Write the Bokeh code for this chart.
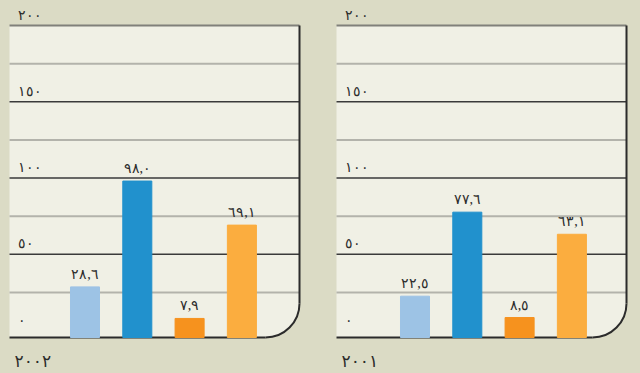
import math
from bokeh.plotting import figure
from bokeh.models import ColumnDataSource, LabelSet, Label, BoxAnnotation, Range1d
from bokeh.layouts import row
from bokeh.embed import file_html
from bokeh.resources import INLINE

# ---- data ----
years = ["2002", "2001"]
categories = [1, 2, 3, 4]
values_2002 = [28.6, 98.0, 7.9, 69.1]
values_2001 = [22.5, 77.6, 8.5, 63.1]
bar_colors = ["#9dc3e5", "#2191cd", "#f6921e", "#fbad3f"]
major_ticks = [0, 50, 100, 150, 200]
dark_grid = [50, 100, 150]
light_grid = [25, 75, 125, 175]
top_grid = [200]

AR = str.maketrans("0123456789.", "٠١٢٣٤٥٦٧٨٩,")


def ar(s):
    return str(s).translate(AR)


BG = "#dbdbc5"
PANEL = "#f0f0e5"
DARK = "#2b2b2b"
FONT = "DejaVu Sans"

W, H = 320, 373
PX_X = 52.3          # pixels per category step
PX_Y = 1.525         # pixels per value unit
ZERO_PX = 330        # pixel row of value 0 (from top)
Y1 = ZERO_PX / PX_Y
Y0 = -(H - ZERO_PX) / PX_Y
Y_BASE = -7 / PX_Y   # bottom edge of plotting area (slightly below zero)
RADIUS = 34          # rounded corner, px


def panel(values, year, first_px, box_left_px, box_right_px):
    X0 = 1 - first_px / PX_X
    X1 = X0 + W / PX_X
    BX0 = X0 + box_left_px / PX_X
    BX1 = X0 + box_right_px / PX_X
    TOP = max(major_ticks)

    p = figure(width=W, height=H, output_backend="svg", toolbar_location=None,
               x_range=Range1d(X0, X1), y_range=Range1d(Y0, Y1),
               x_axis_location=None, y_axis_location=None,
               min_border_left=0, min_border_right=0,
               min_border_top=0, min_border_bottom=0)
    p.center = []
    p.background_fill_color = BG
    p.border_fill_color = BG
    p.outline_line_color = None

    box = BoxAnnotation(left=BX0, right=BX1, bottom=Y_BASE, top=TOP,
                        fill_color=PANEL, fill_alpha=1, line_color=None,
                        border_radius=dict(top_left=0, top_right=0,
                                           bottom_right=RADIUS, bottom_left=0),
                        level="image")
    p.add_layout(box)

    n = len(light_grid)
    p.segment(x0=[BX0] * n, x1=[BX1] * n, y0=light_grid, y1=light_grid,
              line_color="#b3b3ab", line_width=2)
    n = len(dark_grid)
    p.segment(x0=[BX0] * n, x1=[BX1] * n, y0=dark_grid, y1=dark_grid,
              line_color="#3a3a3a", line_width=1.5)
    p.segment(x0=[BX0], x1=[BX1], y0=top_grid, y1=top_grid,
              line_color="#80807a", line_width=2)

    # outline: right edge, bottom edge, rounded corner
    rx = RADIUS / PX_X
    ry = RADIUS / PX_Y
    p.segment(x0=[BX1, BX0], x1=[BX1, BX1 - rx], y0=[TOP, Y_BASE],
              y1=[Y_BASE + ry, Y_BASE], line_color=DARK, line_width=2)
    p.arc(x=[BX1 - rx], y=[Y_BASE + ry], radius=RADIUS, radius_units="screen",
          start_angle=-math.pi / 2, end_angle=0, line_color=DARK, line_width=2)

    src = ColumnDataSource(dict(x=categories, top=values, color=bar_colors,
                                label=[ar(f"{v:.1f}") for v in values]))
    p.vbar(x="x", top="top", bottom=Y_BASE, width=0.555, color="color", source=src)
    p.add_layout(LabelSet(x="x", y="top", text="label", source=src,
                          text_align="center", text_baseline="alphabetic",
                          y_offset=8, text_font=FONT, text_font_size="14px",
                          text_color=DARK))

    tsrc = ColumnDataSource(dict(x=[BX0] * len(major_ticks), y=major_ticks,
                                 text=[ar(t) for t in major_ticks]))
    p.add_layout(LabelSet(x="x", y="y", text="text", source=tsrc,
                          x_offset=8, y_offset=6, text_align="left",
                          text_baseline="alphabetic", text_font=FONT,
                          text_font_size="14px", text_color=DARK))

    p.add_layout(Label(x=BX0, y=Y_BASE, x_offset=5, y_offset=-23, text=ar(year),
                       text_align="left", text_baseline="middle",
                       text_font=FONT, text_font_size="17px", text_color=DARK))
    return p


p1 = panel(values_2002, years[0], 84.5, 9, 299)
p2 = panel(values_2001, years[1], 94.5, 16, 306)
layout = row(p1, p2, spacing=0)
layout.styles = {"background-color": BG}

open("out.html", "w").write(file_html(layout, INLINE))
